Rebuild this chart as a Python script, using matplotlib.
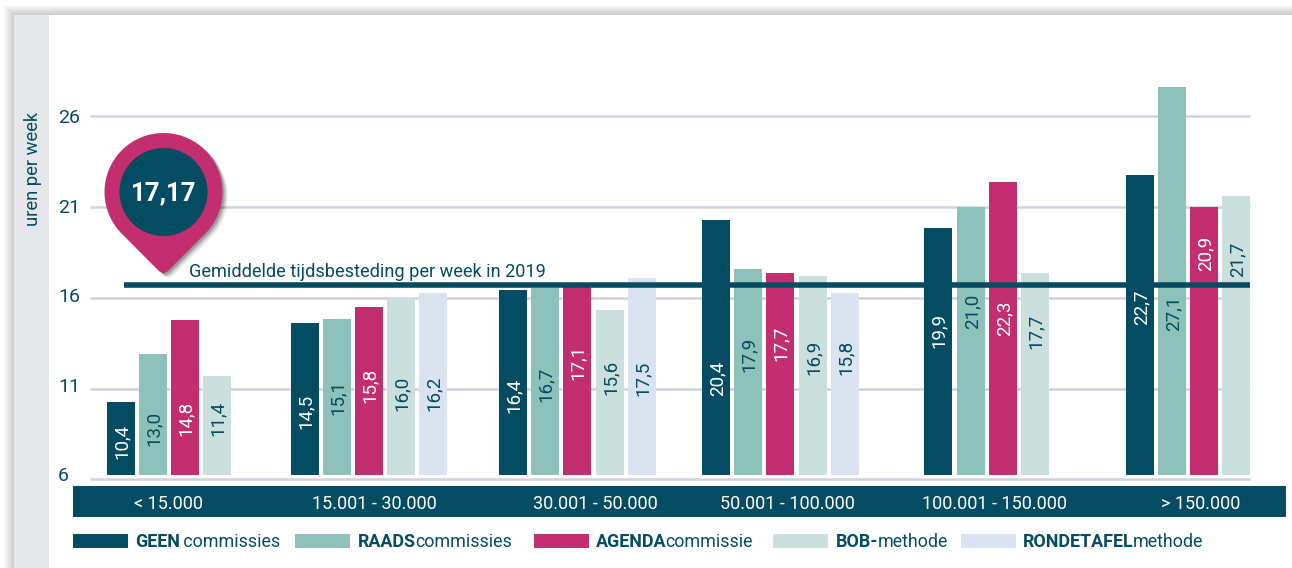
import numpy as np
import matplotlib
matplotlib.use("Agg")
import matplotlib.pyplot as plt
from matplotlib.patches import Rectangle, Circle, PathPatch
from matplotlib.path import Path
from matplotlib.transforms import Affine2D

categories = ["< 15.000", "15.001 - 30.000", "30.001 - 50.000", "50.001 - 100.000", "100.001 - 150.000", "> 150.000"]
series_names = [("GEEN", " commissies"), ("RAADS", "commissies"), ("AGENDA", "commissie"), ("BOB-", "methode"), ("RONDETAFEL", "methode")]
# bar heights as drawn in the picture (they differ slightly from the printed labels)
geen = [10.29, 14.60, 16.40, 20.29, 19.85, 22.73]
raads = [12.92, 14.82, 16.55, 17.59, 21.01, 27.60]
agenda = [14.79, 15.48, 16.75, 17.37, 22.37, 21.01]
bob = [11.71, 15.96, 15.34, 17.21, 17.37, 21.62]
rondetafel = [None, 16.24, 17.10, 16.24, None, None]
geen_labels = ["10,4", "14,5", "16,4", "20,4", "19,9", "22,7"]
raads_labels = ["13,0", "15,1", "16,7", "17,9", "21,0", "27,1"]
agenda_labels = ["14,8", "15,8", "17,1", "17,7", "22,3", "20,9"]
bob_labels = ["11,4", "16,0", "15,6", "16,9", "17,7", "21,7"]
rondetafel_labels = [None, "16,2", "17,5", "15,8", None, None]
yticks = [6, 11, 16, 21, 26]
average = 16.68
average_label = "17,17"
average_text = "Gemiddelde tijdsbesteding per week in 2019"
ylabel = "uren per week"

# layout (pixels)
group_x = [107, 291, 499, 702, 924, 1126]
bar_offsets = [[0, 32, 64, 96, 128], [0, 32, 64, 96, 128], [0, 32, 64, 97, 129],
               [0, 32, 64, 97, 129], [0, 33, 65, 97, 129], [0, 32, 64, 96, 128]]
label_y = [[441, 411, 395, 378, 330, 307],
           [428, 397, 384, 354, 311, 313],
           [418, 385, 362, 343, 318, 253],
           [418, 393, 377, 357, 331, 259],
           [None, 393, 378, 357, None, None]]
tick_y = [476, 387, 297, 208, 118]
cat_x = [168, 374.5, 595, 787.5, 994, 1201]
leg_x = [73, 295, 534, 773, 961]
txt_x = [135.5, 358, 596, 836, 1023]

NAVY, TEAL, PINK, PALE, LILAC = "#034C61", "#8EC1BA", "#C22E70", "#CBDFDD", "#DCE3F0"
GRID, BAND = "#CFD2DC", "#E6E7EB"
colors = [NAVY, TEAL, PINK, PALE, LILAC]
txtcol = ["white", NAVY, "white", NAVY, NAVY]
plt.rcParams["font.family"] = ["Roboto", "DejaVu Sans"]

W, H = 1292, 568
fig = plt.figure(figsize=(W/100, H/100), dpi=100, facecolor="white")
bg = fig.add_axes([0, 0, 1, 1]); bg.set_xlim(0, W); bg.set_ylim(H, 0); bg.axis("off")
for i in range(10, 0, -1):
    bg.add_patch(Rectangle((14-i, 15-i), W, H, fc="#000000", alpha=0.018, lw=0))
bg.add_patch(Rectangle((14, 15), W, H, fc="white", lw=0))
bg.add_patch(Rectangle((14, 15), 35, H, fc=BAND, lw=0))

y0px, y26px = 479.5, 116.0
ax = fig.add_axes([0, 1-y0px/H, 1, (y0px-y26px)/H])
ax.set_xlim(0, W); ax.set_ylim(6, 26); ax.axis("off"); ax.patch.set_alpha(0)
for t in yticks:
    ax.plot([90, 1250], [t, t], color=GRID, lw=1.8, solid_capstyle="butt", zorder=1, clip_on=False)
bw = 28
base = 6 + 4.7/18.17
vals = [geen, raads, agenda, bob, rondetafel]
labs = [geen_labels, raads_labels, agenda_labels, bob_labels, rondetafel_labels]
for s, v in enumerate(vals):
    for g in range(6):
        if v[g] is None:
            continue
        x = group_x[g] + bar_offsets[g][s]
        ax.bar(x + bw/2, v[g]-base, bw, bottom=base, color=colors[s], zorder=2, lw=0, clip_on=False)
ax.plot([124, 1250], [average, average], color=NAVY, lw=4.0, solid_capstyle="butt", zorder=4, clip_on=False)
ax.text(189, average+0.72, average_text, color=NAVY, fontsize=13.1, ha="left", va="center", zorder=5)

over = fig.add_axes([0, 0, 1, 1]); over.set_xlim(0, W); over.set_ylim(H, 0); over.axis("off"); over.patch.set_alpha(0)
for t, py in zip(yticks, tick_y):
    over.text(58, py, str(t), ha="left", va="center", color=NAVY, fontsize=14)
for s, l in enumerate(labs):
    for g in range(6):
        if l[g] is None:
            continue
        x = group_x[g] + bar_offsets[g][s] + bw/2 + 1
        over.text(x, label_y[s][g], l[g], rotation=90, ha="center", va="center", color=txtcol[s], fontsize=13.5, zorder=5)

# pin marker
cx, cy, R = 163.5, 192, 59
tipy = 273.5
angs = np.linspace(-45, 225, 100)
verts = [(cx + R*np.cos(np.deg2rad(t)), cy - R*np.sin(np.deg2rad(t))) for t in angs]
verts = verts + [(cx-4, tipy-2), (cx, tipy), (cx+4, tipy-2), verts[0]]
pin = Path(verts)
for o, al in [(7, .04), (6, .05), (5, .06), (4, .08), (3, .10), (2, .12)]:
    over.add_patch(PathPatch(pin.transformed(Affine2D().translate(o*0.8, o*0.7)), fc="black", alpha=al, lw=0))
over.add_patch(PathPatch(pin, fc=PINK, lw=0))
over.add_patch(Circle((cx, cy), 44, fc=NAVY, lw=0))
over.text(cx, cy+1, average_label, color="white", fontsize=18.5, fontweight="bold", ha="center", va="center")
over.text(32.5, 169, ylabel, rotation=90, color=NAVY, fontsize=13.2, ha="center", va="center")

# category strip
over.add_patch(Rectangle((73, 486), 1212.5, 31, fc=NAVY, lw=0))
for c, x in zip(categories, cat_x):
    over.text(x, 504, c, color="white", fontsize=13, ha="center", va="center")

# legend
r = fig.canvas.get_renderer()
for i, (b, n) in enumerate(series_names):
    over.add_patch(Rectangle((leg_x[i], 534), 55, 14, fc=colors[i], lw=0))
    t = over.text(txt_x[i], 542, b, color=NAVY, fontsize=12.9, fontweight="bold", ha="left", va="center")
    bb = t.get_window_extent(r)
    over.text(bb.x1-1, 542, n, color=NAVY, fontsize=12.9, ha="left", va="center")

fig.savefig("out.png", dpi=100, facecolor="white")
